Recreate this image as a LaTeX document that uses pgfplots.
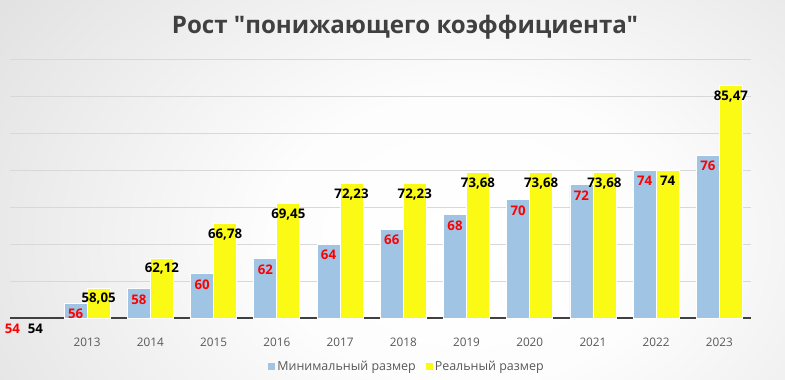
\documentclass[border=0pt]{standalone}
\usepackage{pgfplots}
\pgfplotsset{compat=1.18}
\usepackage{fontspec}
\setmainfont{Open Sans}
\newfontfamily\titlefont{Open Sans}
\definecolor{barblue}{RGB}{160,197,228}
\definecolor{baryel}{RGB}{250,250,20}
\definecolor{titlegray}{RGB}{64,64,64}
\definecolor{tickgray}{RGB}{89,89,89}
\definecolor{gridgray}{RGB}{216,216,216}
\definecolor{lblred}{RGB}{255,0,0}
\definecolor{bgA}{RGB}{255,255,255}
\definecolor{bgB}{RGB}{253,253,253}
\definecolor{bgC}{RGB}{222,222,222}
\definecolor{bgD}{RGB}{194,194,194}
\definecolor{bgE}{RGB}{186,186,186}
\definecolor{bgF}{RGB}{182,182,182}
\pgfdeclareradialshading{bgshade}{\pgfpoint{0bp}{0bp}}{color(0bp)=(bgA); color(8bp)=(bgB); color(25bp)=(bgC); color(38bp)=(bgD); color(46bp)=(bgE); color(50bp)=(bgF)}
\pgfplotsset{sqlegend/.style={legend image code/.code={\fill[##1, draw=none] (0bp,-3.5bp) rectangle (7bp,3.5bp);}}}
\begin{document}
\begin{tikzpicture}[x=1bp,y=1bp]
\useasboundingbox (0,0) rectangle (785,379);
\begin{scope}
\clip (0,0) rectangle (785,379);
\shade[shading=bgshade] (-150,-310) rectangle (1090,590);
\end{scope}
\node[font=\titlefont\fontsize{24.2}{29}\selectfont\bfseries, text=titlegray, anchor=base] at (405,346) {Рост "понижающего коэффициента"};
\begin{axis}[
  at={(10bp,61bp)}, anchor=south west,
  scale only axis, width=741bp, height=259bp,
  xmin=-0.22, xmax=11.5, ymin=54, ymax=89,
  ytick={54,59,...,89}, yticklabels={},
  ymajorgrids, grid style={draw=gridgray, line width=0.8bp},
  axis x line*=bottom, axis y line*=left,
  y axis line style={draw=none},
  x axis line style={draw=titlegray, line width=1.8bp, -},
  major tick length=0pt,
  xtick={0,...,11},
  xticklabels={,2013,2014,2015,2016,2017,2018,2019,2020,2021,2022,2023},
  xticklabel style={font=\fontsize{11.8}{14}\selectfont, text=tickgray, anchor=base, yshift=-28bp},
  ybar, bar width=23bp,
  point meta=explicit symbolic,
  legend columns=2,
  legend style={at={(0.5358,-0.189)}, anchor=center, draw=none, fill=none,
    font=\fontsize{12.5}{15}\selectfont, text=tickgray,
    /tikz/every even column/.append style={column sep=8bp}},
]
\addplot[fill=barblue, draw=white, line width=0.8bp, bar shift=-11.5bp,
  nodes near coords, nodes near coords style={font=\fontsize{13.3}{16}\selectfont\bfseries, text=lblred, anchor=center, yshift=-11bp},
  sqlegend]
  table[x=x, y=y, meta=l] {
x y l
1 56 56
2 58 58
3 60 60
4 62 62
5 64 64
6 66 66
7 68 68
8 70 70
9 72 72
10 74 74
11 76 76
};
\addlegendentry{Минимальный размер}
\addplot[fill=baryel, draw=white, line width=0.8bp, bar shift=11.5bp,
  nodes near coords, nodes near coords style={font=\fontsize{13.3}{16}\selectfont\bfseries, text=black, anchor=center, yshift=-11bp},
  sqlegend]
  table[x=x, y=y, meta=l] {
x y l
1 58.05 58,05
2 62.12 62,12
3 66.78 66,78
4 69.45 69,45
5 72.23 72,23
6 72.23 72,23
7 73.68 73,68
8 73.68 73,68
9 73.68 73,68
10 74 74
11 85.47 85,47
};
\addlegendentry{Реальный размер}
\addplot[draw=none, fill=none, bar shift=-11.5bp, forget plot,
  nodes near coords, nodes near coords style={font=\fontsize{13.3}{16}\selectfont\bfseries, text=lblred, anchor=center, yshift=-11bp}]
  table[x=x, y=y, meta=l] {
x y l
0 54 54
};
\addplot[draw=none, fill=none, bar shift=11.5bp, forget plot,
  nodes near coords, nodes near coords style={font=\fontsize{13.3}{16}\selectfont\bfseries, text=black, anchor=center, yshift=-11bp}]
  table[x=x, y=y, meta=l] {
x y l
0 54 54
};
\end{axis}
\end{tikzpicture}
\end{document}
